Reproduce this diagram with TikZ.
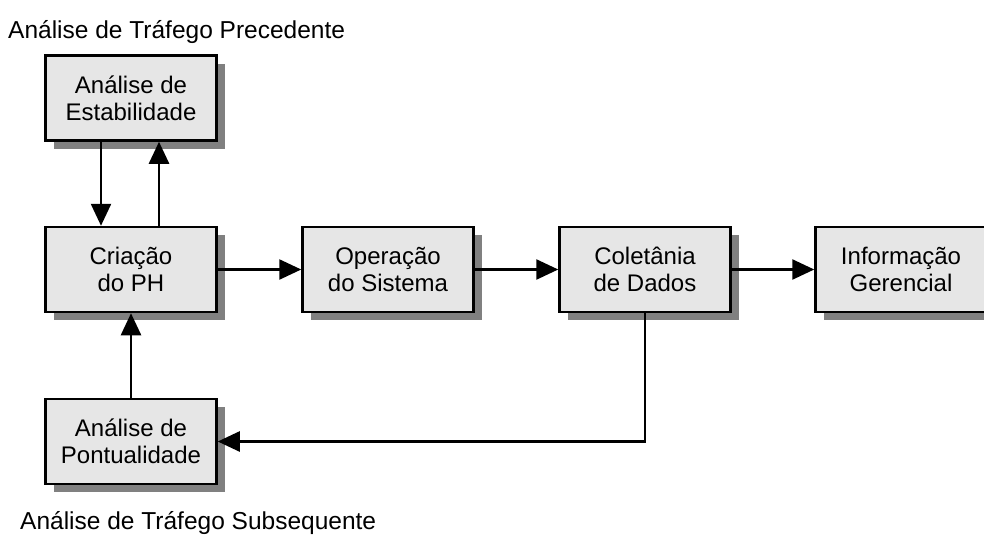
\documentclass[tikz,border=0pt]{standalone}
\usepackage{fontspec}
\setmainfont{Liberation Sans}
\usetikzlibrary{arrows.meta,shadows}
\definecolor{boxgray}{HTML}{E6E6E6}
\definecolor{shadowgray}{HTML}{808080}
\begin{document}
\begin{tikzpicture}[x=1pt,y=-1pt,
  box/.style={draw=black, line width=2.5pt, fill=boxgray, minimum width=171pt,
    minimum height=85pt, inner sep=0pt, align=center,
    font=\fontsize{24}{27}\selectfont,
    drop shadow={shadow xshift=8pt, shadow yshift=-8pt, fill=shadowgray, opacity=1}},
  arr/.style={line width=2.5pt, -{Triangle[length=22pt,width=20pt]}},
  lbl/.style={anchor=base west, inner sep=0pt, font=\fontsize{24.5}{27}\selectfont}
]
\useasboundingbox (0,0) rectangle (984,535);
\node[box] (est) at (131,98) {Análise de\\Estabilidade};
\node[box] (cri) at (131,269.5) {Criação\\do PH};
\node[box] (ope) at (388,269.5) {Operação\\do Sistema};
\node[box] (col) at (645,269.5) {Coletânia\\de Dados};
\node[box] (inf) at (901,269.5) {Informação\\Gerencial};
\node[box] (pon) at (131,441.5) {Análise de\\Pontualidade};
\node[lbl] (ttop) at (8,38) {Análise de Tráfego Precedente};
\node[lbl] (tbot) at (20,529) {Análise de Tráfego Subsequente};
\draw[arr] ([xshift=-30pt]est.south) -- ([xshift=-30pt]cri.north);
\draw[arr] ([xshift=28pt]cri.north) -- ([xshift=28pt]est.south);
\draw[arr] (cri) -- (ope);
\draw[arr] (ope) -- (col);
\draw[arr] (col) -- (inf);
\draw[arr] (pon) -- (cri);
\draw[arr] (col.south) |- (pon.east);
\end{tikzpicture}
\end{document}
